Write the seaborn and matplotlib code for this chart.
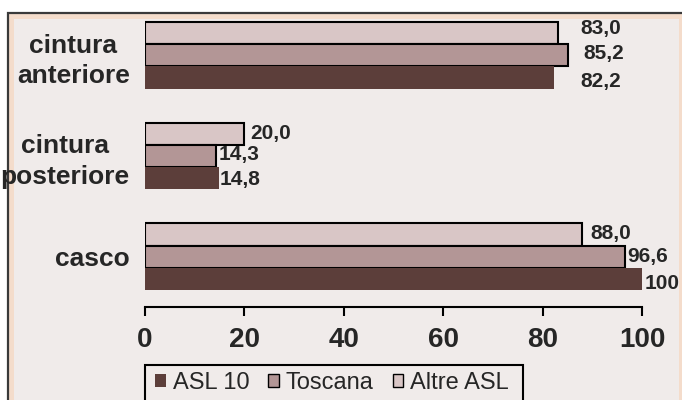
import matplotlib
matplotlib.use("Agg")
import matplotlib.pyplot as plt
from matplotlib.patches import Rectangle, Patch
import seaborn as sns
import pandas as pd

# Data
categories = ["cintura\nanteriore", "cintura\nposteriore", "casco"]
series = ["ASL 10", "Toscana", "Altre ASL"]
asl10 = [82.2, 14.8, 100.0]
toscana = [85.2, 14.3, 96.6]
altre_asl = [83.0, 20.0, 88.0]
x_ticks = [0, 20, 40, 60, 80, 100]

colors = {"ASL 10": "#5c3e3a", "Toscana": "#b39696", "Altre ASL": "#d9c6c6"}
edges = {"ASL 10": "none", "Toscana": "black", "Altre ASL": "black"}

rows = []
for name, vals in zip(series, [asl10, toscana, altre_asl]):
    for cat, v in zip(categories, vals):
        rows.append({"categoria": cat, "serie": name, "valore": v})
df = pd.DataFrame(rows)

W, H = 682, 400
FONT = ["Liberation Sans", "DejaVu Sans"]

sns.set_style("white")
plt.rcParams["font.family"] = FONT

fig = plt.figure(figsize=(W / 100, H / 100), dpi=100, facecolor="white")

# Panel frame: dark outline, peach band, light interior
fig.patches.append(Rectangle((8 / W, 1 - 420 / H), 700 / W, 407 / H,
                             transform=fig.transFigure, facecolor="#f4dccb",
                             edgecolor="#3a3a3a", linewidth=1.6, zorder=-10))
fig.patches.append(Rectangle((14 / W, 1 - 420 / H), 665 / W, 401 / H,
                             transform=fig.transFigure, facecolor="#f0ebea",
                             edgecolor="none", zorder=-9))

ax = fig.add_axes([145 / W, 1 - 307 / H, 497 / W, 302 / H])
ax.set_zorder(1)
ax.set_facecolor("none")

hue_order = ["Altre ASL", "Toscana", "ASL 10"]
sns.barplot(data=df, y="categoria", x="valore", hue="serie", order=categories,
            hue_order=hue_order, palette=colors, width=0.66, saturation=1,
            orient="h", legend=False, ax=ax)

# Bar outlines and value labels (x/y nudges in pixels)
label_nudge = {
    "Altre ASL": [(23, 5), (6, 0), (8, 1)],
    "Toscana": [(15, 2), (3, 1), (2, 0)],
    "ASL 10": [(27, -4), (1, -1), (3, -5)],
}
for cont, name in zip(ax.containers, hue_order):
    for i, bar in enumerate(cont):
        bar.set_edgecolor(edges[name])
        bar.set_linewidth(1.5 if edges[name] != "none" else 0)
        v = bar.get_width()
        txt = "100" if v == 100 else f"{v:.1f}".replace(".", ",")
        dx, dy = label_nudge[name][i]
        ax.annotate(txt, (v, bar.get_y() + bar.get_height() / 2),
                    xytext=(dx * 0.72, dy * 0.72), textcoords="offset points",
                    ha="left", va="center", fontsize=15, fontweight="bold",
                    annotation_clip=False)

ax.set_xlim(0, 100)
ax.set_xticks(x_ticks)
ax.set_xticklabels([str(t) for t in x_ticks], fontsize=20, fontweight="bold")
ax.set_yticks(range(len(categories)))
ax.set_yticklabels(categories, fontsize=19, fontweight="bold",
                   multialignment="center", linespacing=1.32)
ax.tick_params(axis="x", direction="out", length=6.5, width=1.5, pad=8,
               color="black", bottom=True)
ax.tick_params(axis="y", length=0, pad=11)
ax.set_xlabel("")
ax.set_ylabel("")
for side in ["top", "right", "left"]:
    ax.spines[side].set_visible(False)
ax.spines["bottom"].set_linewidth(1.5)
ax.spines["bottom"].set_color("black")

# Legend
handles = [Patch(facecolor=colors[s], edgecolor=edges[s],
                 linewidth=1 if edges[s] != "none" else 0) for s in series]
leg = fig.legend(handles, series, loc="upper left",
                 bbox_to_anchor=(155 / W, 1 - 372 / H),
                 ncol=3, frameon=False, prop={"size": 17},
                 handlelength=0.45, handleheight=0.45, handletextpad=0.3,
                 columnspacing=0.8, borderpad=0.0, borderaxespad=0)
fig.patches.append(Rectangle((145 / W, 1 - 420 / H), 378 / W, 55 / H,
                             transform=fig.transFigure, facecolor="none",
                             edgecolor="black", linewidth=1.5, zorder=5))

fig.savefig("out.png", dpi=100, facecolor="white")
